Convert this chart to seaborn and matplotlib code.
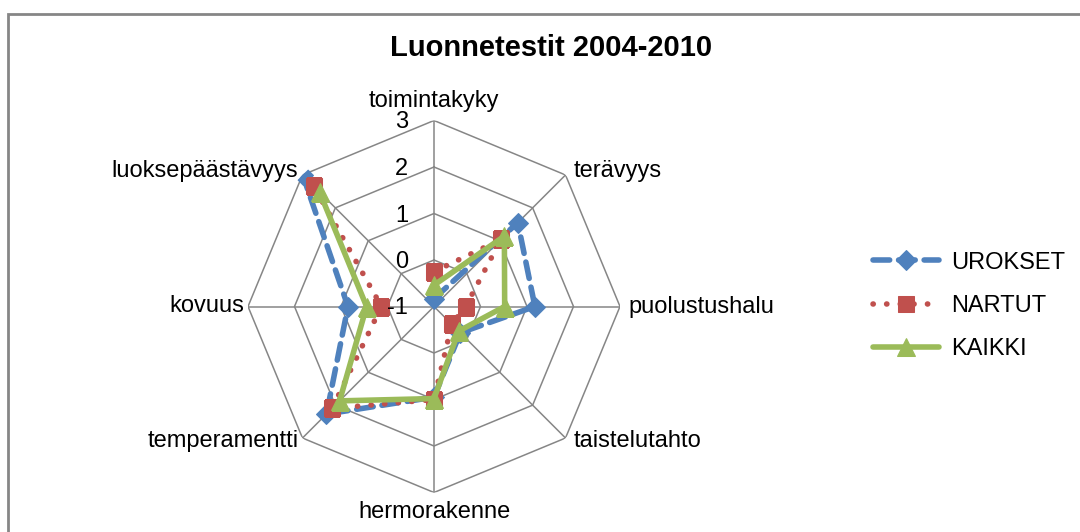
import numpy as np
import pandas as pd
import seaborn as sns
import matplotlib.pyplot as plt
from matplotlib.patches import Rectangle

categories = ['toimintakyky', 'terävyys', 'puolustushalu', 'taistelutahto',
              'hermorakenne', 'temperamentti', 'kovuus', 'luoksepäästävyys']
urokset = [-0.83, 1.55, 1.17, -0.2, 0.95, 2.27, 0.85, 2.99]
nartut = [-0.25, 1.04, -0.32, -0.46, 1.0, 2.1, 0.13, 2.66]
kaikki = [-0.54, 1.14, 0.52, -0.25, 0.98, 1.87, 0.45, 2.48]
rticks = [-1, 0, 1, 2, 3]

sns.set_theme(style='white')
plt.rcParams['font.family'] = ['Liberation Sans', 'DejaVu Sans']
plt.rcParams['text.color'] = 'black'

W, H = 1080, 532
fig = plt.figure(figsize=(W / 100, H / 100), dpi=100)
cx, cy, R = 434, 306.5, 186
ax = fig.add_axes([(cx - R) / W, (H - cy - R) / H, 2 * R / W, 2 * R / H],
                  projection='polar')
ax.set_theta_offset(np.pi / 2)
ax.set_theta_direction(-1)
ax.set_ylim(-1, 3)
ax.grid(False)
ax.spines['polar'].set_visible(False)
ax.set_xticks([])
ax.set_yticks([])
ax.patch.set_alpha(0)

n = len(categories)
angles = np.arange(n) * 2 * np.pi / n
closed = np.append(angles, angles[0])
grid_col = '#868686'

# octagon grid and spokes
for r in rticks[1:]:
    ax.plot(closed, [r] * (n + 1), color=grid_col, lw=1.1, zorder=1)
for a in angles:
    ax.plot([a, a], [-1, 3], color=grid_col, lw=1.1, zorder=1)

series = [
    ('UROKSET', urokset, '#4F81BD', 'D', 10, dict(dashes=(3, 1.6), dash_capstyle='round')),
    ('NARTUT', nartut, '#C0504D', 's', 12, dict(dashes=(0.05, 2.4), dash_capstyle='round')),
    ('KAIKKI', kaikki, '#9BBB59', '^', 13, dict()),
]
handles = []
for name, vals, col, mk, ms, style in series:
    df = pd.DataFrame({'theta': closed, 'value': np.append(vals, vals[0])})
    sns.lineplot(data=df, x='theta', y='value', sort=False, ax=ax, color=col,
                 marker=mk, markersize=ms, markeredgecolor=col,
                 markerfacecolor=col, label=name, zorder=3, **style)
    line = ax.lines[-1]
    line.set_linewidth(4.0)
    handles.append(line)
ax.get_legend().remove()
ax.set_xlabel('')
ax.set_ylabel('')

# category labels
fs = 17
for a, lab in zip(angles, categories):
    deg = np.degrees(a) % 360
    if deg == 0:
        ha, va, off = 'center', 'bottom', (0, 8)
    elif deg == 180:
        ha, va, off = 'center', 'top', (0, -8)
    elif deg < 180:
        ha, va, off = 'left', 'center', (8, 4 if deg < 90 else -3 if deg > 90 else 0)
    else:
        ha, va, off = 'right', 'center', (-4, 4 if deg > 270 else -3 if deg < 270 else 0)
    ax.annotate(lab, (a, 3), xytext=off, textcoords='offset pixels',
                ha=ha, va=va, fontsize=fs, color='black')

for r in rticks:
    ax.annotate(str(r), (0, r), xytext=(-26, -2), textcoords='offset pixels',
                ha='right', va='center', fontsize=fs, color='black')

fig.text(551 / W, 1 - 48 / H, 'Luonnetestit 2004-2010', ha='center', va='center',
         fontsize=21, fontweight='bold', color='black')

fig.legend(handles=handles, labels=[s[0] for s in series], loc='center left',
           bbox_to_anchor=(852 / W, 1 - 306 / H), frameon=False, fontsize=fs,
           handlelength=2.8, labelspacing=0.9, handletextpad=0.5, numpoints=1,
           labelcolor='black')

fig.add_artist(Rectangle((8 / W, -0.1), 1.1, 1 - 14 / H + 0.1, transform=fig.transFigure,
                         fill=False, edgecolor=grid_col, lw=2))

fig.savefig('out.png', dpi=100)
